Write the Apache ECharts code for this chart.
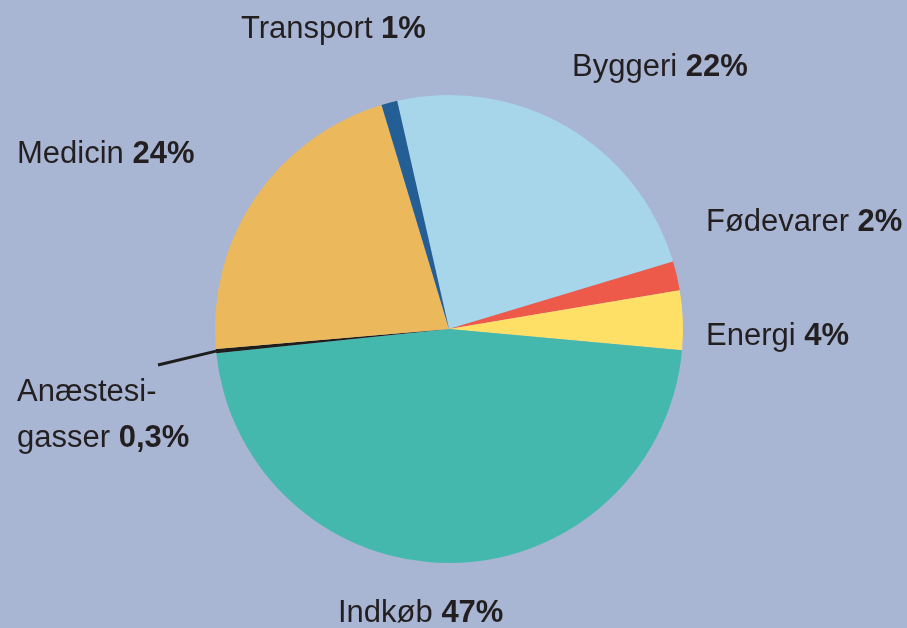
<!DOCTYPE html>
<html>
<head>
<meta charset="utf-8">
<script src="https://cdn.jsdelivr.net/npm/echarts@6/dist/echarts.min.js"></script>
<style>
  html, body { margin: 0; padding: 0; background: #a8b5d3; }
  #chart { width: 907px; height: 628px; }
</style>
</head>
<body>
<div id="chart"></div>
<script>
// slices, clockwise from the Transport/Byggeri border
const names = ['Byggeri', 'Fødevarer', 'Energi', 'Indkøb', 'Anæstesi-\ngasser', 'Medicin', 'Transport'];
const shares = [23.9, 2.0, 4.1, 46.9, 0.3, 21.7, 1.1];   // as drawn
const pctText = ['22%', '2%', '4%', '47%', '0,3%', '24%', '1%']; // as printed
const colors = ['#a7d6eb', '#ee5a4a', '#ffe066', '#45b8ad', '#1d1d1b', '#ebb85b', '#235e95'];

// where each label sits (left edge, vertical middle of first line)
const labelPos = [
    [572, 66], [706, 221], [706, 335], [338, 612], [17, 391], [17, 153], [241, 28]
];

const CX = 449, CY = 329, R = 234, START = 102.8;

const chart = echarts.init(document.getElementById('chart'));

const total = shares.reduce((a, b) => a + b, 0);

// point on the rim at the middle of slice i
function rimPoint(i) {
    let before = 0;
    for (let k = 0; k < i; k++) before += shares[k];
    const mid = (before + shares[i] / 2) / total * 360;
    const a = (START - mid) * Math.PI / 180;
    return [CX + R * Math.cos(a), CY - R * Math.sin(a)];
}

const data = names.map((n, i) => ({
    name: n,
    value: shares[i],
    itemStyle: { color: colors[i] },
    labelLine: i === 4
        ? { show: true, lineStyle: { color: '#1d1d1b', width: 3 } }
        : { show: false }
}));

chart.setOption({
    backgroundColor: '#a8b5d3',
    animation: false,
    series: [{
        type: 'pie',
        center: [CX, CY],
        radius: [0, R],
        startAngle: START,
        clockwise: true,
        avoidLabelOverlap: false,
        minAngle: 0,
        emphasis: { disabled: true },
        itemStyle: { borderWidth: 0 },
        data: data,
        label: {
            show: true,
            position: 'outside',
            formatter: (p) => {
                const parts = names[p.dataIndex].split('\n');
                const last = parts.pop();
                let s = parts.map(t => '{n|' + t + '}\n').join('');
                return s + '{n|' + last + ' }{b|' + pctText[p.dataIndex] + '}';
            },
            rich: {
                n: { fontFamily: 'Liberation Sans', fontSize: 31, color: '#231f20', lineHeight: 46 },
                b: { fontFamily: 'Liberation Sans', fontSize: 31, fontWeight: 'bold', color: '#231f20', lineHeight: 46 }
            }
        },
        labelLayout: (params) => {
            const i = params.dataIndex;
            const pos = labelPos[i];
            const h = params.labelRect.height;
            const out = {
                x: pos[0],
                y: pos[1] + 9 - 23 + h / 2,
                align: 'left',
                verticalAlign: 'middle',
                hideOverlap: false
            };
            if (i === 4) {
                out.labelLinePoints = [rimPoint(i), [pos[0] + 141, pos[1] - 26]];
            }
            return out;
        }
    }]
});
</script>
</body>
</html>
